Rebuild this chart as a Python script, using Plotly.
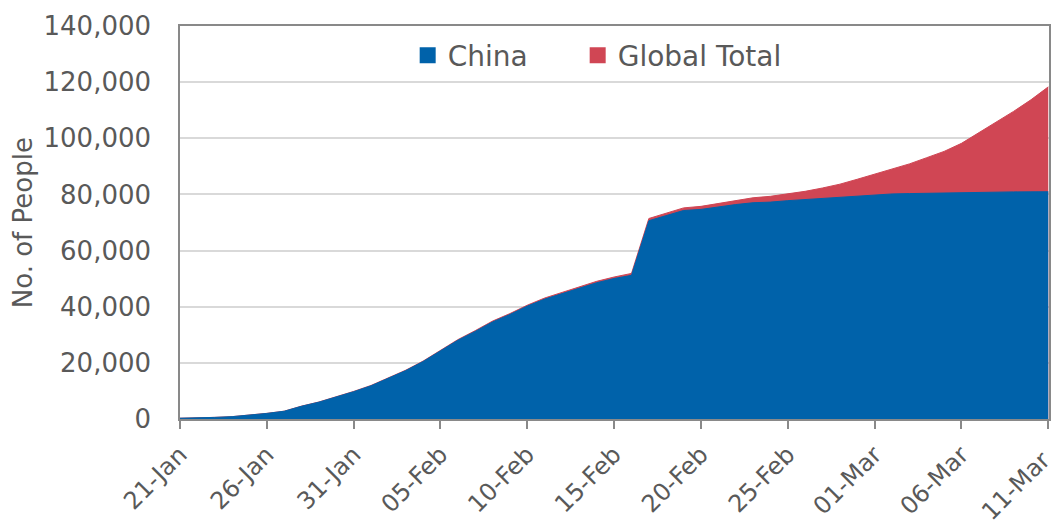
import pandas as pd
import plotly.graph_objects as go

dates = pd.date_range("2020-01-21", "2020-03-11", freq="D")

china = [278, 309, 571, 830, 1297, 1985, 2761, 4537, 5997, 7736,
         9720, 11821, 14411, 17238, 20471, 24363, 28060, 31211, 34598, 37251,
         40235, 42708, 44730, 46550, 48548, 50054, 51174, 70635, 72528, 74280,
         74675, 75569, 76392, 77042, 77262, 77780, 78191, 78630, 78961, 79394,
         79968, 80174, 80304, 80422, 80565, 80711, 80813, 80859, 80904, 80924,
         80955]

global_total = [282, 314, 581, 846, 1320, 2014, 2798, 4593, 6065, 7818,
                9826, 11953, 14557, 17391, 20630, 24554, 28276, 31481, 34886, 37558,
                40554, 43103, 45171, 46997, 49053, 50580, 51857, 71429, 73332, 75204,
                75748, 76769, 77794, 78811, 79331, 80239, 81109, 82294, 83652, 85403,
                87137, 88948, 90870, 93090, 95324, 98192, 101927, 105586, 109577, 113702,
                118319]

tick_dates = pd.date_range("2020-01-21", "2020-03-11", freq="5D")
tick_text = [d.strftime("%d-%b") for d in tick_dates]
# keep the last rotated label inside the page edge
tick_text[-1] = tick_text[-1] + "\u00a0"

BLUE = "#0062AA"
RED = "#D04654"
TXT = "#595959"
AXIS = "#898989"
FONT = "DejaVu Sans"

fig = go.Figure()
fig.add_trace(go.Scatter(x=dates, y=global_total, mode="lines", fill="tozeroy",
                         line=dict(color=RED, width=1), fillcolor=RED,
                         showlegend=False, hoverinfo="skip"))
fig.add_trace(go.Scatter(x=dates, y=china, mode="lines", fill="tozeroy",
                         line=dict(color=BLUE, width=1), fillcolor=BLUE,
                         showlegend=False, hoverinfo="skip"))
# legend entries
fig.add_trace(go.Scatter(x=[None], y=[None], mode="markers", name="China",
                         marker=dict(symbol="square", size=16, color=BLUE)))
fig.add_trace(go.Scatter(x=[None], y=[None], mode="markers", name="Global Total",
                         marker=dict(symbol="square", size=16, color=RED)))
fig.add_trace(go.Scatter(x=[None], y=[None], mode="markers", name=" ",
                         marker=dict(symbol="square", size=16, color="rgba(0,0,0,0)")))

fig.update_layout(
    width=1057, height=525,
    margin=dict(l=180, r=8, t=26, b=106, autoexpand=False),
    paper_bgcolor="white", plot_bgcolor="white",
    font=dict(family=FONT, color=TXT, size=26),
    legend=dict(orientation="h", x=0.262, y=0.925, xanchor="left", yanchor="middle",
                font=dict(size=28, color=TXT), bgcolor="rgba(0,0,0,0)",
                entrywidth=125, itemsizing="trace"),
    annotations=[dict(text="No. of People", textangle=-90, xref="paper", yref="paper",
                      x=-0.181, y=0.5, xanchor="center", yanchor="middle",
                      showarrow=False, font=dict(size=26, color=TXT))],
)
fig.update_xaxes(
    type="date", automargin=False,
    range=["2020-01-21", "2020-03-11 01:00"],
    tickvals=tick_dates, ticktext=tick_text, tickangle=-45,
    ticks="outside", ticklen=10, tickcolor="rgba(0,0,0,0)",
    ticklabeloverflow="allow",
    minor=dict(tickvals=tick_dates, ticks="outside", ticklen=8, tickcolor=AXIS, tickwidth=1.5),
    showline=True, linecolor=AXIS, linewidth=2, mirror=True,
    showgrid=False, tickfont=dict(size=24, color=TXT),
)
fig.update_yaxes(
    range=[0, 140000], dtick=20000, tickformat=",", automargin=False,
    showline=True, linecolor=AXIS, linewidth=1.5, mirror=True,
    showgrid=True, gridcolor="#D9D9D9", gridwidth=1.5, zeroline=False,
    ticks="", ticklabelstandoff=22,
    tickfont=dict(size=26, color=TXT),
)

fig.write_html("out.html")
